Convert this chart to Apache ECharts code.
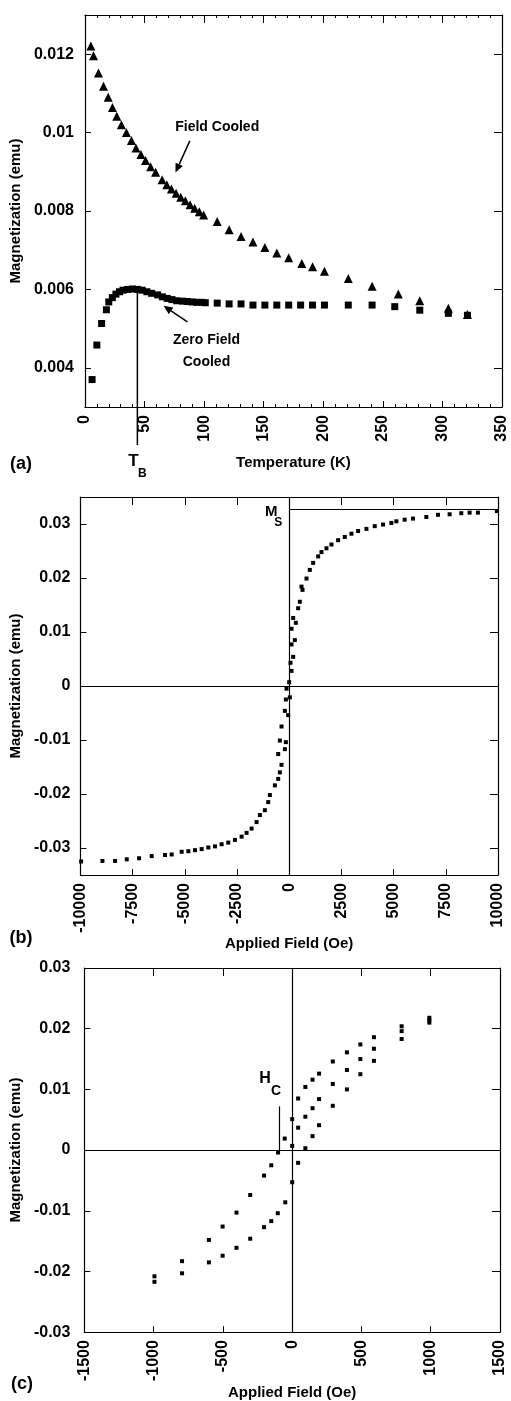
<!DOCTYPE html>
<html>
<head>
<meta charset="utf-8">
<title>Magnetization measurements</title>
<script src="https://cdn.jsdelivr.net/npm/echarts@6/dist/echarts.min.js"></script>
<style>
  html, body { margin: 0; padding: 0; background: #fff; }
  #chart { width: 511px; height: 1401px; }
</style>
</head>
<body>
<div id="chart"></div>
<script>
// (a) field cooled / zero field cooled, temperature in K, magnetization in emu
var fcTemp = [5, 7.2, 11.4, 15.6, 19.5, 23.1, 26.7, 30.6, 34.8, 39, 42.8, 47, 50.9, 55.1, 59.3, 64.8, 68.7, 72.6, 76.5, 80.4, 84.3, 88.2, 92.1, 96, 99.6, 111, 121, 131, 141, 151, 161, 171, 182, 191, 201, 221, 241, 263, 281, 305, 321];
var fcMag = [0.01221, 0.01196, 0.01152, 0.01118, 0.0109, 0.01064, 0.01042, 0.0102, 0.01, 0.0098, 0.00961, 0.00944, 0.00929, 0.00913, 0.00899, 0.0088, 0.00867, 0.00856, 0.00845, 0.00835, 0.00826, 0.00816, 0.00807, 0.00798, 0.0079, 0.00773, 0.00752, 0.00735, 0.00721, 0.00707, 0.00693, 0.00681, 0.00666, 0.00658, 0.00646, 0.00628, 0.00608, 0.00588, 0.00571, 0.00552, 0.00536];
var zfcTemp = [6, 10, 14, 18, 20, 23, 26, 29, 32, 36, 40, 44, 48, 52, 56, 61, 65, 69, 73, 77, 82, 86, 90, 94, 98, 101, 111, 121, 131, 141, 151, 161, 171, 181, 191, 201, 221, 241, 260, 281, 305, 321];
var zfcMag = [0.0037, 0.00458, 0.00513, 0.00548, 0.00568, 0.00579, 0.00588, 0.00594, 0.00598, 0.006, 0.00601, 0.006, 0.00598, 0.00594, 0.0059, 0.00586, 0.00581, 0.00577, 0.00574, 0.00571, 0.0057, 0.00569, 0.00568, 0.00567, 0.00567, 0.00566, 0.00565, 0.00563, 0.00563, 0.0056, 0.0056, 0.0056, 0.0056, 0.0056, 0.0056, 0.0056, 0.0056, 0.0056, 0.00556, 0.00547, 0.00539, 0.00534];
var blockingTemp = 44;
var tempTicks = [0, 350, 50];
var magTicksA = [0.004, 0.006, 0.008, 0.01, 0.012];

// (b) full loop, field in Oe
var loopField = [-9963, -8943, -8337, -7779, -7189, -6583, -5946, -5627, -5149, -4830, -4511, -4192, -3873, -3555, -3236, -2917, -2598, -2279, -2040, -1801, -1562, -1403, -1164, -1004, -925, -685, -526, -446, -367, -526, -446, -207, -159, -367, -207, -48, -159, 32, -128, 0, 112, 64, 191, 112, 271, 112, 319, 191, 430, 510, 638, 590, 829, 988, 1148, 1387, 1546, 1785, 2024, 2343, 2662, 2981, 3300, 3698, 4097, 4495, 4894, 5133, 5531, 5930, 6567, 7125, 7683, 8241, 8640, 9038, 9947];
var loopMag = [-0.0325, -0.0324, -0.0324, -0.0321, -0.0319, -0.0315, -0.0313, -0.0312, -0.0307, -0.0306, -0.0304, -0.0302, -0.0299, -0.0297, -0.0293, -0.029, -0.0285, -0.0279, -0.0272, -0.0264, -0.0252, -0.0239, -0.023, -0.0215, -0.0202, -0.0184, -0.0172, -0.016, -0.0146, -0.0126, -0.0101, -0.0117, -0.0104, -0.0075, -0.0046, -0.0054, -0.0025, -0.0021, -0.0005, 0.0007, 0.0028, 0.0043, 0.0054, 0.0077, 0.0085, 0.0106, 0.0117, 0.0126, 0.0144, 0.0156, 0.0178, 0.0184, 0.0199, 0.0215, 0.0228, 0.024, 0.0248, 0.0255, 0.0262, 0.027, 0.0276, 0.0282, 0.0287, 0.0291, 0.0296, 0.0299, 0.0302, 0.0305, 0.0308, 0.031, 0.0313, 0.0317, 0.0318, 0.032, 0.0321, 0.0321, 0.0324];
var saturationMag = 0.0328;
var fieldTicksB = [-10000, 10000, 2500];
var magTicksB = [-0.03, -0.02, -0.01, 0, 0.01, 0.02, 0.03];

// (c) low field loop: virgin curve, descending and ascending branches
var virginField = [0, 43, 95, 147, 194, 293, 395, 492, 590, 790, 990];
var virginMag = [0.0007, 0.0037, 0.0055, 0.0069, 0.0084, 0.0109, 0.0132, 0.015, 0.0167, 0.0196, 0.0214];
var downField = [990, 790, 590, 492, 395, 293, 194, 147, 95, 43, 0, -54, -102, -151, -203, -303, -402, -502, -601, -795, -994];
var downMag = [0.0218, 0.0204, 0.0186, 0.0174, 0.0161, 0.0146, 0.0126, 0.0116, 0.0104, 0.0085, 0.0051, 0.0019, -0.0004, -0.0025, -0.0042, -0.0074, -0.0103, -0.0126, -0.0148, -0.0183, -0.0208];
var upField = [-994, -795, -601, -502, -402, -303, -203, -151, -104, -50, 0, 43, 95, 147, 194, 293, 395, 492, 590, 790, 990];
var upMag = [-0.0217, -0.0203, -0.0185, -0.0174, -0.0161, -0.0146, -0.0127, -0.0117, -0.0104, -0.0086, -0.0053, -0.0021, 0.0003, 0.0023, 0.0041, 0.0073, 0.01, 0.0125, 0.0147, 0.0183, 0.021];
var coerciveField = -95;
var coerciveLineTop = 0.0072;
var fieldTicksC = [-1500, 1500, 500];
var magTicksC = [-0.03, -0.02, -0.01, 0, 0.01, 0.02, 0.03];

var FONT = 'Liberation Sans';
var INK = '#000';

function pairs(xs, ys) {
    return xs.map(function (x, i) { return [x, ys[i]]; });
}

function xAxisPair(grid, ticks, name, nameGap, minor) {
    var common = {
        type: 'value',
        gridIndex: grid,
        min: ticks[0],
        max: ticks[1],
        interval: ticks[2],
        splitLine: {show: false},
        axisLine: {show: true, onZero: false, lineStyle: {color: INK, width: 1.2}},
        minorTick: {show: !!minor, splitNumber: 5, length: 3, lineStyle: {color: INK}}
    };
    var bottom = Object.assign({}, common, {
        position: 'bottom',
        name: name,
        nameLocation: 'middle',
        nameGap: nameGap,
        nameTextStyle: {fontFamily: FONT, fontWeight: 'bold', fontSize: 15, color: INK},
        axisTick: {show: true, inside: true, length: 6, lineStyle: {color: INK}},
        axisLabel: {
            rotate: 90, margin: 8, color: INK,
            fontFamily: FONT, fontWeight: 'bold', fontSize: 16,
            formatter: function (v) { return String(v); }
        }
    });
    var top = Object.assign({}, common, {
        position: 'top',
        axisTick: {show: true, inside: true, length: 8, lineStyle: {color: INK}},
        axisLabel: {show: false}
    });
    return [bottom, top];
}

function yAxisPair(grid, min, max, ticks, nameGap, labelMargin) {
    var common = {
        type: 'value',
        gridIndex: grid,
        min: min,
        max: max,
        splitLine: {show: false},
        axisLine: {show: true, onZero: false, lineStyle: {color: INK, width: 1.2}}
    };
    var left = Object.assign({}, common, {
        position: 'left',
        name: 'Magnetization (emu)',
        nameLocation: 'middle',
        nameGap: nameGap,
        nameTextStyle: {fontFamily: FONT, fontWeight: 'bold', fontSize: 15, color: INK},
        axisTick: {show: true, inside: true, length: 6, customValues: ticks, lineStyle: {color: INK}},
        axisLabel: {
            customValues: ticks, margin: labelMargin, color: INK,
            fontFamily: FONT, fontWeight: 'bold', fontSize: 16,
            formatter: function (v) { return String(v); }
        }
    });
    var right = Object.assign({}, common, {
        position: 'right',
        axisTick: {show: true, inside: true, length: 8, customValues: ticks, lineStyle: {color: INK}},
        axisLabel: {show: false}
    });
    return [left, right];
}

var chart = echarts.init(document.getElementById('chart'));

var refLine = {
    silent: true,
    symbol: 'none',
    label: {show: false},
    lineStyle: {color: INK, type: 'solid', width: 1.2},
    emphasis: {disabled: true}
};

var dot = {color: INK, opacity: 1};

chart.setOption({
    animation: false,
    backgroundColor: '#fff',
    grid: [
        {left: 82, top: 15, width: 420, height: 392},
        {left: 80, top: 497, width: 418, height: 378},
        {left: 77, top: 968, width: 423, height: 380}
    ],
    xAxis: []
        .concat(xAxisPair(0, tempTicks, 'Temperature (K)', 48, true))
        .concat(xAxisPair(1, fieldTicksB, 'Applied Field (Oe)', 55, false))
        .concat(xAxisPair(2, fieldTicksC, 'Applied Field (Oe)', 28, false)),
    yAxis: []
        .concat(yAxisPair(0, 0.003, 0.013, magTicksA, 53, 11))
        .concat(yAxisPair(1, -0.035, 0.035, magTicksB, 52, 10))
        .concat(yAxisPair(2, -0.03, 0.03, magTicksC, 53, 14)),
    series: [
        {
            name: 'Field Cooled', type: 'scatter', xAxisIndex: 0, yAxisIndex: 0,
            symbol: 'triangle', symbolSize: 9, itemStyle: dot,
            data: pairs(fcTemp, fcMag)
        },
        {
            name: 'Zero Field Cooled', type: 'scatter', xAxisIndex: 0, yAxisIndex: 0,
            symbol: 'rect', symbolSize: 7, itemStyle: dot,
            data: pairs(zfcTemp, zfcMag)
        },
        {
            name: 'Loop', type: 'scatter', xAxisIndex: 2, yAxisIndex: 2,
            symbol: 'rect', symbolSize: 4, itemStyle: dot,
            data: pairs(loopField, loopMag),
            markLine: Object.assign({}, refLine, {
                data: [
                    {xAxis: 0},
                    {yAxis: 0},
                    [{coord: [0, saturationMag]}, {coord: [fieldTicksB[1], saturationMag]}]
                ]
            })
        },
        {
            name: 'Virgin', type: 'scatter', xAxisIndex: 4, yAxisIndex: 4,
            symbol: 'rect', symbolSize: 4, itemStyle: dot,
            data: pairs(virginField, virginMag),
            markLine: Object.assign({}, refLine, {
                data: [
                    {xAxis: 0},
                    {yAxis: 0},
                    [{coord: [coerciveField, 0]}, {coord: [coerciveField, coerciveLineTop]}]
                ]
            })
        },
        {
            name: 'Descending', type: 'scatter', xAxisIndex: 4, yAxisIndex: 4,
            symbol: 'rect', symbolSize: 4, itemStyle: dot,
            data: pairs(downField, downMag)
        },
        {
            name: 'Ascending', type: 'scatter', xAxisIndex: 4, yAxisIndex: 4,
            symbol: 'rect', symbolSize: 4, itemStyle: dot,
            data: pairs(upField, upMag)
        }
    ]
});

// annotations, placed from data coordinates
function px(xi, yi, pt) {
    return chart.convertToPixel({xAxisIndex: xi, yAxisIndex: yi}, pt);
}

function label(text, x, y, size) {
    return {
        type: 'text', silent: true,
        style: {
            text: text, x: x, y: y, fill: INK,
            font: 'bold ' + size + 'px ' + FONT,
            textAlign: 'center', textVerticalAlign: 'middle'
        }
    };
}

function arrow(p0, p1) {
    var dx = p1[0] - p0[0], dy = p1[1] - p0[1];
    var len = Math.sqrt(dx * dx + dy * dy);
    var ux = dx / len, uy = dy / len;
    var bx = p1[0] - ux * 9, by = p1[1] - uy * 9;
    return [
        {type: 'line', silent: true, shape: {x1: p0[0], y1: p0[1], x2: bx, y2: by}, style: {stroke: INK, lineWidth: 1.5}},
        {type: 'polygon', silent: true, shape: {points: [[p1[0], p1[1]], [bx - uy * 4, by + ux * 4], [bx + uy * 4, by - ux * 4]]}, style: {fill: INK}}
    ];
}

var tbTop = px(0, 0, [blockingTemp, 0.006]);
var fcText = px(0, 0, [111, 0.01015]);
var zfcText1 = px(0, 0, [102, 0.00471]);
var zfcText2 = px(0, 0, [102, 0.00414]);
var msPt = px(2, 2, [0, saturationMag]);
var hcPt = px(4, 4, [coerciveField, coerciveLineTop]);

var elements = [
    {type: 'line', silent: true, shape: {x1: tbTop[0], y1: tbTop[1], x2: tbTop[0], y2: 445}, style: {stroke: INK, lineWidth: 1.5}},
    label('T', tbTop[0] - 4, 461, 17),
    label('B', tbTop[0] + 5, 474, 12),
    label('Field Cooled', fcText[0], fcText[1], 14),
    label('Zero Field', zfcText1[0], zfcText1[1], 14),
    label('Cooled', zfcText2[0], zfcText2[1], 14),
    label('M', msPt[0] - 18, msPt[1] + 3, 15),
    label('S', msPt[0] - 11, msPt[1] + 14, 12),
    label('H', hcPt[0] - 14, hcPt[1] - 28, 16),
    label('C', hcPt[0] - 3, hcPt[1] - 15, 14),
    label('(a)', 21, 464, 18),
    label('(b)', 21, 938, 18),
    label('(c)', 22, 1384, 18)
];
elements = elements
    .concat(arrow(px(0, 0, [88, 0.00979]), px(0, 0, [76, 0.00898])))
    .concat(arrow(px(0, 0, [86, 0.00517]), px(0, 0, [66, 0.00558])));

chart.setOption({graphic: {elements: elements}});
</script>
</body>
</html>
